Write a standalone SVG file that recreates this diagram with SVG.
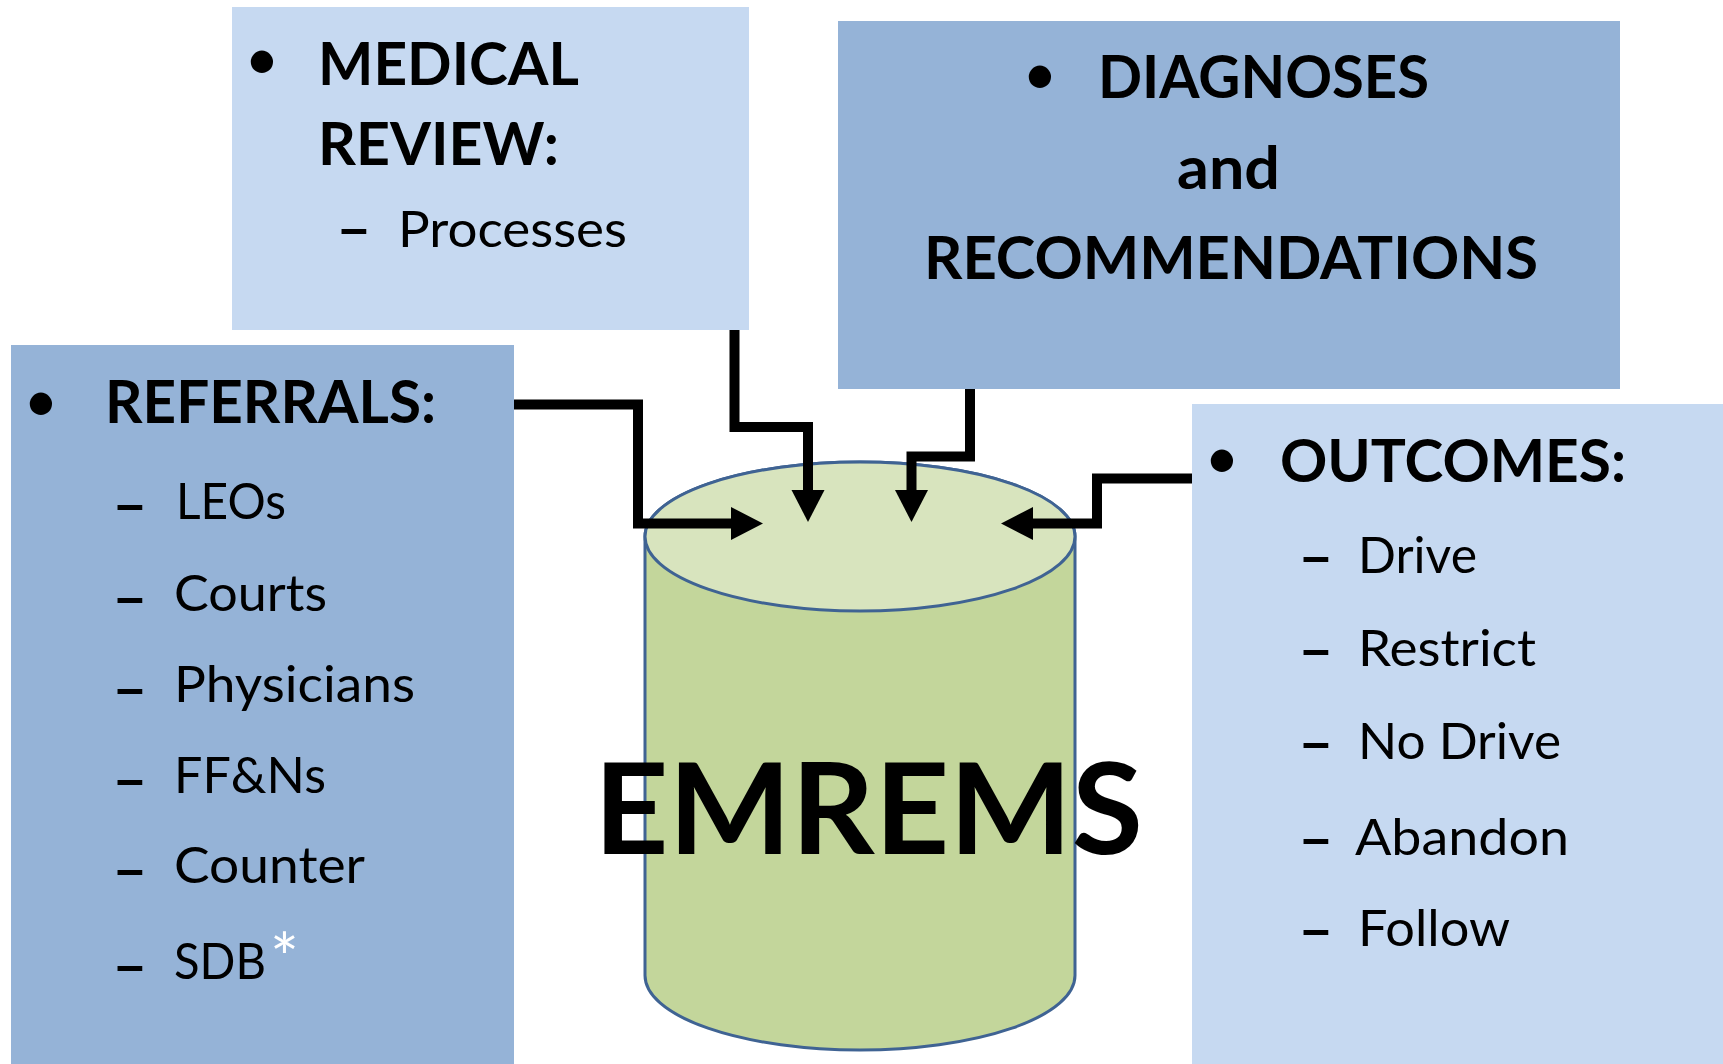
<svg xmlns="http://www.w3.org/2000/svg" width="1723" height="1064" viewBox="0 0 1723 1064">
<style>
.dark{fill:#95B3D7}
.light{fill:#C6D9F1}
.h{font-family:Lato,"Liberation Sans",sans-serif;font-weight:bold;font-size:60px;fill:#000}
.b{font-family:Lato,"Liberation Sans",sans-serif;font-weight:normal;font-size:60px;fill:#000;text-anchor:middle}
.s{font-family:Lato,"Liberation Sans",sans-serif;font-weight:normal;font-size:50px;fill:#000}
.d{font-family:"Liberation Sans",Arial,sans-serif;font-weight:bold;font-size:50px;fill:#000}
.conn{fill:none;stroke:#000;stroke-width:10;stroke-linejoin:miter}
.cyl{stroke:#3F6393;stroke-width:3}
</style>
<defs>
<marker id="arr" markerUnits="userSpaceOnUse" markerWidth="40" markerHeight="40" refX="0" refY="0" orient="auto" overflow="visible">
<path d="M0,-16.5 L32,0 L0,16.5 Z" fill="#000"/>
</marker>
</defs>
<rect width="1723" height="1064" fill="#fff"/>

<g id="medical-review">
<rect class="light" x="232" y="7" width="517" height="323"/>
<text class="b" x="262" y="80">•</text>
<text class="h" x="318" y="85" textLength="261" lengthAdjust="spacingAndGlyphs">MEDICAL</text>
<text class="h" x="318" y="165" textLength="241" lengthAdjust="spacingAndGlyphs">REVIEW:</text>
<text class="d" x="340" y="245">–</text>
<text class="s" x="398" y="247" textLength="229" lengthAdjust="spacingAndGlyphs">Processes</text>
</g>

<g id="diagnoses">
<rect class="dark" x="838" y="21" width="782" height="368"/>
<text class="b" x="1040" y="95">•</text>
<text class="h" x="1098" y="98" textLength="331" lengthAdjust="spacingAndGlyphs">DIAGNOSES</text>
<text class="h" x="1177" y="189" textLength="103" lengthAdjust="spacingAndGlyphs">and</text>
<text class="h" x="924" y="279" textLength="614" lengthAdjust="spacingAndGlyphs">RECOMMENDATIONS</text>
</g>

<g id="referrals">
<rect class="dark" x="11" y="345" width="503" height="719"/>
<text class="b" x="41" y="422">•</text>
<text class="h" x="105" y="423" textLength="331" lengthAdjust="spacingAndGlyphs">REFERRALS:</text>
<text class="d" x="116" y="521">–</text>
<text class="s" x="176" y="519" textLength="110" lengthAdjust="spacingAndGlyphs">LEOs</text>
<text class="d" x="116" y="614">–</text>
<text class="s" x="174" y="611" textLength="153" lengthAdjust="spacingAndGlyphs">Courts</text>
<text class="d" x="116" y="705">–</text>
<text class="s" x="174" y="702" textLength="241" lengthAdjust="spacingAndGlyphs">Physicians</text>
<text class="d" x="116" y="796">–</text>
<text class="s" x="174" y="793" textLength="152" lengthAdjust="spacingAndGlyphs">FF&amp;Ns</text>
<text class="d" x="116" y="886">–</text>
<text class="s" x="174" y="883" textLength="191" lengthAdjust="spacingAndGlyphs">Counter</text>
<text class="d" x="116" y="982">–</text>
<text class="s" x="174" y="979" textLength="92" lengthAdjust="spacingAndGlyphs">SDB</text>
<text class="s" x="270" y="982" style="fill:#fff;font-size:68px">*</text>
</g>

<g id="outcomes">
<rect class="light" x="1192" y="404" width="531" height="660"/>
<text class="b" x="1222" y="479">•</text>
<text class="h" x="1280" y="482" textLength="346" lengthAdjust="spacingAndGlyphs">OUTCOMES:</text>
<text class="d" x="1302" y="573">–</text>
<text class="s" x="1358" y="573" textLength="119" lengthAdjust="spacingAndGlyphs">Drive</text>
<text class="d" x="1302" y="666">–</text>
<text class="s" x="1358" y="666" textLength="178" lengthAdjust="spacingAndGlyphs">Restrict</text>
<text class="d" x="1302" y="759">–</text>
<text class="s" x="1358" y="759" textLength="203" lengthAdjust="spacingAndGlyphs">No Drive</text>
<text class="d" x="1302" y="855">–</text>
<text class="s" x="1355" y="855" textLength="214" lengthAdjust="spacingAndGlyphs">Abandon</text>
<text class="d" x="1302" y="946">–</text>
<text class="s" x="1358" y="946" textLength="152" lengthAdjust="spacingAndGlyphs">Follow</text>
</g>

<g id="emrems">
<path class="cyl" fill="#C3D69B" d="M645,536.5 L645,975.5 A215,74.5 0 0 0 1075,975.5 L1075,536.5 A215,74.5 0 0 0 645,536.5 Z"/>
<ellipse class="cyl" fill="#D8E4BE" cx="860" cy="536.5" rx="215" ry="74.5"/>
</g>

<g id="connectors">
<path class="conn" d="M514,404.5 H638 V523.5 H731" marker-end="url(#arr)"/>
<path class="conn" d="M734.5,330 V427 H808 V490" marker-end="url(#arr)"/>
<path class="conn" d="M970,389 V456.5 H911.5 V490" marker-end="url(#arr)"/>
<path class="conn" d="M1192,478.5 H1097 V523.5 H1033" marker-end="url(#arr)"/>
</g>

<g id="emrems-label">
<text x="594" y="854" style="font-family:Lato,'Liberation Sans',sans-serif;font-weight:bold;font-size:127px;fill:#000" textLength="549" lengthAdjust="spacingAndGlyphs">EMREMS</text>
</g>
</svg>
